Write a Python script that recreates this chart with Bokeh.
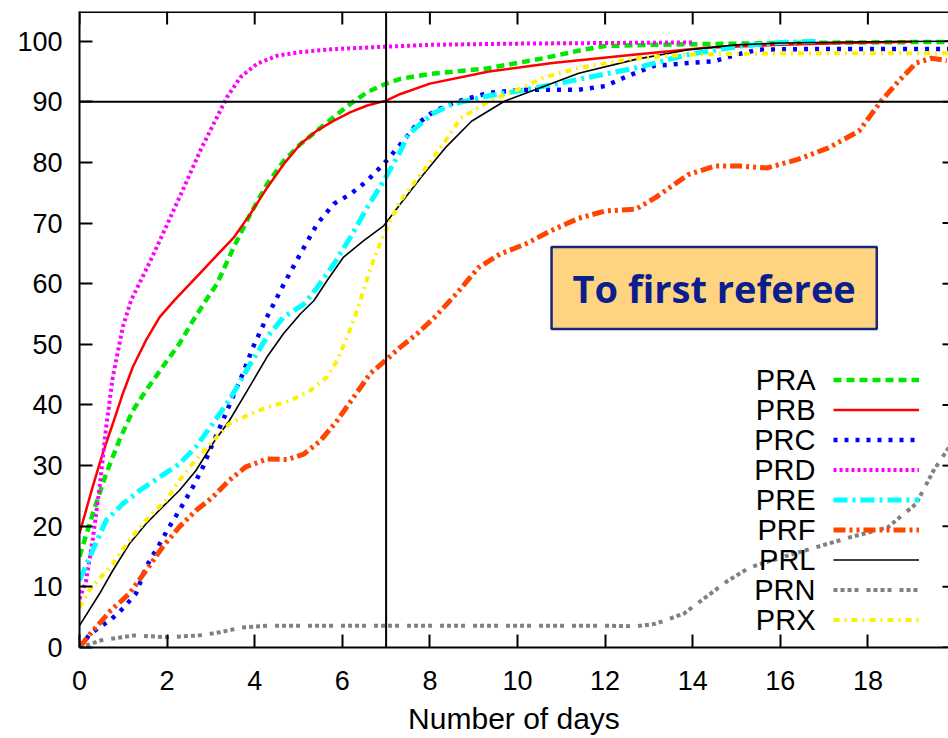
from bokeh.plotting import figure
from bokeh.models import Span, Label, Legend, LegendItem, FixedTicker, Range1d
from bokeh.core.properties import value
from bokeh.embed import file_html
from bokeh.resources import INLINE

# ---------------- data ----------------
names = ["PRA", "PRB", "PRC", "PRD", "PRE", "PRF", "PRL", "PRN", "PRX"]

pra_x = [0, 0.3, 0.61, 0.91, 1.22, 1.52, 1.9, 2.28, 2.59, 2.89, 3.14, 3.52, 3.9, 4.28, 4.67, 5.04, 5.43, 5.81, 6.19, 6.57, 7.0, 7.33, 8.0, 9.3, 10.6, 11.5, 12.0, 13, 14, 16, 18, 20]
pra_y = [15, 22, 28.7, 34.2, 39.1, 42.4, 46.3, 50.1, 53.9, 57.3, 60, 66, 71.5, 76.4, 80.3, 83, 85.3, 87.5, 89.7, 91.6, 93, 93.8, 94.6, 95.5, 97.2, 98.6, 99.2, 99.4, 99.5, 99.7, 99.8, 99.9]

prb_x = [0, 0.3, 0.53, 0.76, 0.99, 1.22, 1.52, 1.83, 2.17, 2.5, 2.76, 3.14, 3.52, 3.9, 4.28, 4.67, 5.04, 5.43, 5.81, 6.19, 6.57, 7.0, 7.33, 8.0, 9.35, 10.8, 12.7, 14.3, 16, 17.5, 19]
prb_y = [18.8, 26.5, 32, 36.9, 41.9, 46.3, 50.7, 54.5, 57.3, 59.8, 61.8, 64.7, 67.6, 71.5, 75.8, 79.8, 83, 85.3, 86.9, 88.3, 89.4, 90.2, 91.3, 93, 95, 96.4, 97.8, 98.9, 99.4, 99.7, 99.9]

prc_x = [0, 0.25, 0.7, 1.0, 1.29, 1.52, 1.83, 2.05, 2.28, 2.59, 2.82, 3.04, 3.27, 3.5, 3.73, 3.96, 4.28, 4.67, 5.04, 5.43, 5.81, 6.19, 6.57, 6.95, 7.33, 7.7, 8.1, 8.6, 9.35, 10.2, 11.4, 12.0, 12.5, 13.1, 13.9, 14.5, 15.0, 15.5, 16.5, 18, 20]
prc_y = [0, 2.3, 4.5, 6.5, 8.9, 13.3, 17.1, 19.9, 22.6, 26.5, 29.8, 33.6, 37.4, 41.3, 45.2, 49.5, 54.5, 60, 64.9, 69.9, 73.2, 74.8, 77, 79.8, 83, 86.3, 88.5, 90, 91.5, 92, 92, 92.6, 94.2, 95.9, 96.4, 96.7, 97.8, 98.6, 98.7, 98.7, 98.7]

prd_x = [0, 0.15, 0.3, 0.46, 0.61, 0.76, 0.99, 1.18, 1.62, 1.99, 2.38, 2.76, 3.14, 3.37, 3.68, 4.06, 4.51, 5.04, 5.81, 7.0, 8, 10, 12, 14]
prd_y = [8, 11, 17.7, 26.5, 36.4, 44.6, 52.9, 57.3, 63.8, 69.6, 75.8, 82, 87.5, 90.8, 94.1, 96.3, 97.6, 98.2, 98.7, 99.1, 99.4, 99.6, 99.7, 99.8]

pre_x = [0, 0.3, 0.61, 0.99, 1.37, 1.83, 2.28, 2.66, 3.04, 3.42, 3.9, 4.28, 4.66, 5.12, 5.43, 5.81, 6.19, 6.57, 6.95, 7.33, 7.5, 8.05, 8.5, 9.35, 10.2, 11.4, 12.7, 13.9, 15.1, 16.0, 16.9]
pre_y = [11.1, 16, 21, 23.7, 25.9, 28.1, 30.3, 33.1, 36.9, 40.8, 46.8, 51.2, 54.5, 56.6, 59.4, 63.3, 67.7, 72.6, 77, 81.9, 84.6, 88, 89.6, 91, 92, 93.7, 95.6, 97.8, 99.2, 99.8, 100]

prf_x = [0, 0.25, 0.7, 1.14, 1.52, 1.9, 2.28, 2.66, 3.04, 3.42, 3.8, 4.28, 4.74, 5.12, 5.5, 5.88, 6.26, 6.64, 6.98, 7.32, 7.7, 8.1, 8.6, 9.1, 9.6, 10.2, 10.75, 11.4, 12.0, 12.7, 13.15, 13.9, 14.5, 15.1, 15.7, 16.4, 17.1, 17.8, 18.3, 18.7, 19.1, 19.45, 19.8]
prf_y = [0, 2.3, 6, 8.9, 12.7, 16.6, 19.9, 22.6, 24.8, 27.6, 29.8, 31.1, 31, 31.9, 34.1, 37.4, 41.3, 45.2, 47.3, 49.5, 51.7, 54.4, 58.3, 62.6, 64.9, 66.6, 68.7, 70.8, 72, 72.3, 74.2, 78, 79.4, 79.4, 79.1, 80.5, 82.4, 85.2, 90.1, 93.4, 96.4, 97.2, 96.8]

prl_x = [0, 0.46, 0.76, 1.14, 1.52, 1.9, 2.28, 2.66, 3.04, 3.42, 3.8, 4.28, 4.66, 5.04, 5.35, 5.65, 6.03, 6.49, 6.95, 7.33, 7.85, 8.35, 8.95, 9.7, 10.4, 11.4, 12.7, 13.9, 15, 16, 18, 20]
prl_y = [3.6, 8.9, 12.7, 17.1, 20.4, 23.2, 25.9, 29.2, 33.6, 37.4, 42, 47.9, 51.8, 55, 57.2, 60.5, 64.4, 67.1, 69.6, 73.2, 78, 82.4, 86.8, 90.1, 92, 94.7, 97, 98.6, 99.4, 99.7, 99.9, 100]

prn_x = [0, 0.5, 1.25, 2.0, 2.75, 3.2, 3.7, 4.3, 6, 8, 10, 12, 12.7, 13.15, 13.8, 14.3, 14.8, 15.3, 16.0, 16.8, 17.6, 18.45, 19.1, 19.5, 19.85]
prn_y = [0, 1.2, 2, 1.7, 2, 2.5, 3.3, 3.6, 3.6, 3.6, 3.6, 3.6, 3.5, 3.9, 5.6, 8.3, 11, 13.2, 14.8, 16.5, 18.2, 19.8, 23.7, 29.2, 33]

prx_x = [0, 0.23, 0.76, 1.14, 1.52, 1.98, 2.28, 2.66, 3.04, 3.42, 3.9, 4.28, 4.81, 5.27, 5.65, 5.88, 6.11, 6.34, 6.65, 6.95, 7.33, 7.85, 8.35, 8.7, 9.35, 10.0, 10.6, 11.4, 12.7, 13.9, 16, 18, 20]
prx_y = [6.6, 9.5, 13.8, 17.7, 21, 24.3, 27.6, 31, 34, 36.9, 38.5, 39.6, 40.7, 42.4, 44.6, 47.3, 51.2, 55.6, 62.7, 68.2, 73.7, 78.6, 83.5, 87.3, 90.1, 92, 94, 95.6, 97.2, 97.8, 98, 98, 98]

x_ticks = [0, 2, 4, 6, 8, 10, 12, 14, 16, 18]
y_ticks = [0, 10, 20, 30, 40, 50, 60, 70, 80, 90, 100]
ref_day = 7
ref_pct = 90
x_label = "Number of days"
box_text = "To first referee"

series_x = [pra_x, prb_x, prc_x, prd_x, pre_x, prf_x, prl_x, prn_x, prx_x]
series_y = [pra_y, prb_y, prc_y, prd_y, pre_y, prf_y, prl_y, prn_y, prx_y]

# ---------------- styles ----------------
colors = ["#00E800", "#FF0000", "#0000FF", "#FF00FF", "#00FFFF", "#FF4500", "#000000", "#808080", "#FFF000"]
widths = [4.5, 2.5, 4.5, 4, 5, 5, 1.6, 4, 4]
dashes = ["8 5", "solid", "4 7", "3 3", "14 5 3 5", "12 4 3 4 3 4", "solid", "4 3 4 3 4 3 4 8", "6 5 2 5"]

W, H = 948, 738
BL, BT, BB = 79, 11, 91
PX_PER_DAY = 43.8
PX_PER_UNIT = 6.063
X_END = (W - BL) / PX_PER_DAY
Y_END = (H - BT - BB) / PX_PER_UNIT
FONT = "Liberation Sans"

p = figure(width=W, height=H, output_backend="svg", toolbar_location=None,
           x_range=Range1d(0, X_END), y_range=Range1d(0, Y_END),
           min_border_left=BL, min_border_top=BT, min_border_right=0, min_border_bottom=BB,
           x_axis_label=x_label)
p.outline_line_color = None
p.grid.visible = False
p.background_fill_color = "white"
p.border_fill_color = "white"

for ax in (p.xaxis[0], p.yaxis[0]):
    ax.axis_line_width = 2
    ax.axis_line_color = "black"
    ax.major_tick_line_width = 2
    ax.major_tick_line_color = "black"
    ax.major_tick_in = 13
    ax.major_tick_out = 0
    ax.minor_tick_line_color = None
    ax.major_label_text_font = FONT
    ax.major_label_text_font_size = "27px"
    ax.major_label_text_color = "black"

p.xaxis.ticker = FixedTicker(ticks=x_ticks)
p.yaxis.ticker = FixedTicker(ticks=y_ticks)
p.xaxis.major_label_standoff = 23
p.yaxis.major_label_standoff = 17
p.xaxis.axis_label_text_font = FONT
p.xaxis.axis_label_text_font_size = "30px"
p.xaxis.axis_label_text_font_style = "normal"
p.xaxis.axis_label_text_color = "black"
p.xaxis.axis_label_standoff = 9

# top border and mirrored inward ticks (top and right), gnuplot style
p.add_layout(Span(location=Y_END, dimension="width", line_color="black", line_width=3))
p.segment(x0=x_ticks, y0=[Y_END] * len(x_ticks), x1=x_ticks,
          y1=[Y_END - 13 / PX_PER_UNIT] * len(x_ticks), line_color="black", line_width=2)
p.segment(x0=[X_END - 6 / PX_PER_DAY] * len(y_ticks), y0=y_ticks, x1=[X_END] * len(y_ticks),
          y1=y_ticks, line_color="black", line_width=2)

p.add_layout(Span(location=ref_day, dimension="height", line_color="black", line_width=2))
p.add_layout(Span(location=ref_pct, dimension="width", line_color="black", line_width=2))

renderers = []
for xs, ys, c, w, d in zip(series_x, series_y, colors, widths, dashes):
    r = p.line(xs, ys, line_color=c, line_width=w, line_dash=d)
    renderers.append(r)

# legend: line samples on the right, names on the left (gnuplot style)
ROW = 30
LEG_X, LEG_Y = 754, 14
legend = Legend(items=[LegendItem(label=value(""), renderers=[r]) for r in renderers],
                location=(LEG_X, LEG_Y), glyph_width=86, glyph_height=27, label_height=27,
                label_width=0, label_standoff=0, spacing=ROW - 27, padding=0, margin=0,
                border_line_color=None, background_fill_alpha=0,
                label_text_font_size="1px", label_text_alpha=0)
p.add_layout(legend)

n = len(names)
name_y = [(LEG_Y + (n - 1 - i) * ROW + 13.5) / PX_PER_UNIT for i in range(n)]
name_x = [(LEG_X - 18) / PX_PER_DAY] * n
p.text(x=name_x, y=name_y, text=names, text_align="right", text_baseline="middle",
       text_font=value(FONT), text_font_size="29px", text_color="black")

p.add_layout(Label(x=14.49, y=59.3, text=box_text, text_align="center", text_baseline="middle",
                   text_font="Open Sans", text_font_style="bold", text_font_size="38px",
                   text_color="#0A1E8E", background_fill_color="#FFD480",
                   border_line_color="#1A237E", border_line_width=2.5, padding=(21, 15)))

open("out.html", "w").write(file_html(p, INLINE))
